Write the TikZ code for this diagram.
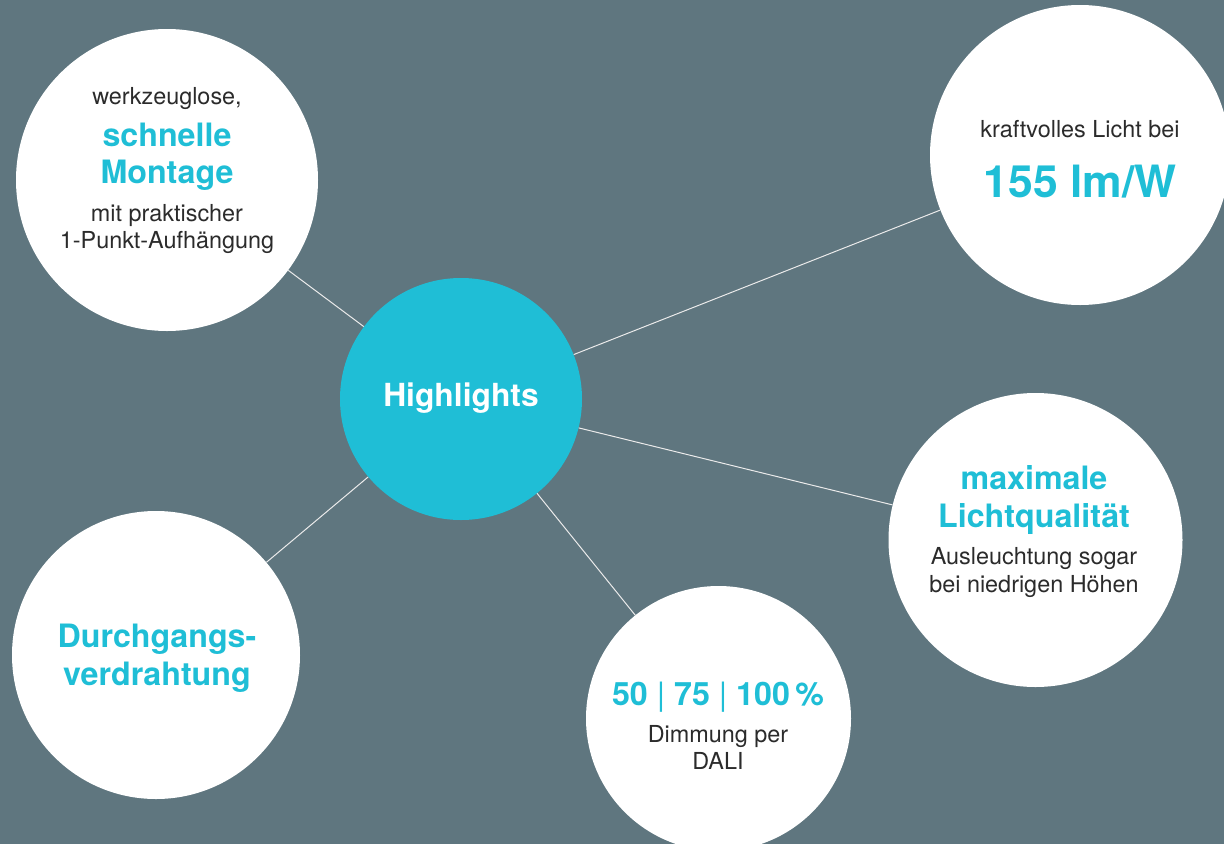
\documentclass[tikz,border=0pt]{standalone}
\usepackage{fontspec}
\setmainfont{TeX Gyre Heros}
\definecolor{bgslate}{HTML}{5F767F}
\definecolor{hlcyan}{HTML}{1FBED6}
\definecolor{txtgray}{HTML}{2B2B2B}
\begin{document}
\begin{tikzpicture}[x=1pt,y=-1pt,
  bubble/.style={circle,fill=white,inner sep=0pt,minimum size=#1},
  hub/.style={circle,fill=hlcyan,inner sep=0pt,minimum size=242pt},
  link/.style={draw=white!92!black,line width=1pt},
  small/.style={anchor=base,text=txtgray,inner sep=0pt,font=\fontsize{23.4}{28}\selectfont},
  big/.style={anchor=base,text=hlcyan,inner sep=0pt,font=\fontsize{32.2}{38}\selectfont\bfseries},
  huge/.style={anchor=base,text=hlcyan,inner sep=0pt,font=\fontsize{44.5}{52}\selectfont\bfseries}]
\fill[bgslate] (0,0) rectangle (1224,844);
\useasboundingbox (0,0) rectangle (1224,844);
% circles
\node[hub] (hl) at (461,399) {};
\node[bubble=302pt] (tl) at (167,180) {};
\node[bubble=300pt] (tr) at (1080,155) {};
\node[bubble=294pt] (rt) at (1035.5,540) {};
\node[bubble=288pt] (bl) at (156,655) {};
\node[bubble=265pt] (bt) at (718.5,718.5) {};
% connectors
\draw[link] (hl) -- (tl);
\draw[link] (hl) -- (tr);
\draw[link] (hl) -- (rt);
\draw[link] (hl) -- (bl);
\draw[link] (hl) -- (bt);
% texts
\node[anchor=base,text=white,inner sep=0pt,font=\fontsize{31.8}{38}\selectfont\bfseries] (hlt) at (461,406) {Highlights};
\node[small] (tl1) at (167,104) {werkzeuglose,};
\node[big] (tl2) at (167,146) {schnelle};
\node[big] (tl3) at (167,183) {Montage};
\node[small] (tl4) at (167,221) {mit praktischer};
\node[small] (tl5) at (167,248) {1-Punkt-Aufhängung};
\node[small] (tr1) at (1080,137) {kraftvolles Licht bei};
\node[huge] (tr2) at (1080,197) {155 lm/W};
\node[big] (rt1) at (1034,489) {maximale};
\node[big] (rt2) at (1034,527) {Lichtqualität};
\node[small] (rt3) at (1034,564) {Ausleuchtung sogar};
\node[small] (rt4) at (1034,592) {bei niedrigen Höhen};
\node[big] (bl1) at (157,647) {Durchgangs-};
\node[big] (bl2) at (157,685) {verdrahtung};
\node[big] (bt1) at (718,705) {50 {\mdseries|} 75 {\mdseries|} 100\,\%};
\node[small] (bt2) at (718,742) {Dimmung per};
\node[small] (bt3) at (718,769) {DALI};
\end{tikzpicture}
\end{document}
